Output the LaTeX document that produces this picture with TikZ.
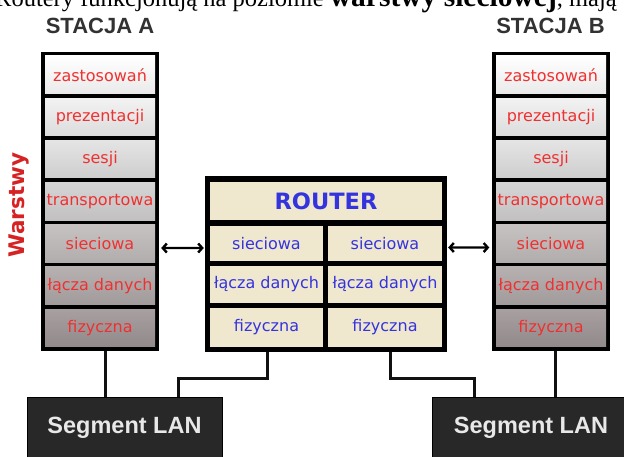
\documentclass[tikz,border=0pt]{standalone}
\usepackage{fontspec}
\setmainfont{Liberation Serif}
\newfontfamily\dvfont{DejaVu Sans}
\newfontfamily\lsfont{Liberation Sans}
\usetikzlibrary{arrows.meta,calc}
\definecolor{laytxt}{RGB}{240,48,48}
\definecolor{warstcol}{RGB}{214,34,34}
\definecolor{routtxt}{RGB}{52,52,222}
\definecolor{beige}{RGB}{239,231,206}
\definecolor{lanfill}{RGB}{40,40,40}
\definecolor{lantxt}{RGB}{232,232,232}
\definecolor{titlecol}{RGB}{50,50,50}
\definecolor{wirecol}{RGB}{17,17,17}
\tikzset{
  frame/.style={fill=black, inner sep=0pt, draw=none},
  laycell/.style={inner sep=0pt, minimum width=110pt, minimum height=37.5pt,
    text=laytxt, font=\dvfont\fontsize{16}{16}\selectfont},
  rcell/.style={fill=beige, inner sep=0pt, text=routtxt,
    font=\dvfont\fontsize{16}{16}\selectfont},
  title/.style={text=titlecol, font=\lsfont\bfseries\fontsize{22}{22}\selectfont, inner sep=0pt},
  lanbox/.style={fill=lanfill, draw=black, line width=0.6pt, inner sep=0pt,
    text=lantxt, font=\lsfont\bfseries\fontsize{23.5}{23.5}\selectfont},
  wire/.style={draw=wirecol, line width=3pt},
  dblarrow/.style={draw=black, line width=2.4pt,
    {Straight Barb[length=4pt,width=9pt]}-{Straight Barb[length=4pt,width=9pt]}},
  c1/.style={top color=white, bottom color={rgb,255:red,234;green,234;blue,234}},
  c2/.style={top color={rgb,255:red,242;green,242;blue,242}, bottom color={rgb,255:red,220;green,220;blue,220}},
  c3/.style={top color={rgb,255:red,228;green,228;blue,228}, bottom color={rgb,255:red,206;green,206;blue,206}},
  c4/.style={top color={rgb,255:red,214;green,213;blue,213}, bottom color={rgb,255:red,194;green,192;blue,192}},
  c5/.style={top color={rgb,255:red,198;green,194;blue,194}, bottom color={rgb,255:red,178;green,173;blue,173}},
  c6/.style={top color={rgb,255:red,182;green,176;blue,176}, bottom color={rgb,255:red,162;green,155;blue,155}},
  c7/.style={top color={rgb,255:red,168;green,160;blue,160}, bottom color={rgb,255:red,146;green,138;blue,138}},
}
\begin{document}
\begin{tikzpicture}[x=1pt,y=-1pt]
\useasboundingbox (0,0) rectangle (624,457);
\clip (0,0) rectangle (624,457);
\fill[white] (0,0) rectangle (624,457);

% cut-off line of text at the top
\node[anchor=base west, inner sep=0pt, font=\fontsize{24.5}{24.5}\selectfont] (topline) at (-5,7)
  {Routery funkcjonują na poziomie {\fontsize{29.5}{29.5}\selectfont\bfseries warstwy sieciowej}, mają};

% titles
\node[title, anchor=base] (tA) at (100,34) {STACJA A};
\node[title, anchor=base] (tB) at (550.5,34) {STACJA B};

% Warstwy
\node[rotate=90, text=warstcol, font=\dvfont\bfseries\fontsize{21.5}{21.5}\selectfont, inner sep=0pt] (warst) at (19,205) {Warstwy};

% station A
\node[frame, minimum width=118pt, minimum height=299pt] (stA) at (100,201.5) {};
\node[laycell,c1] (a1) at (100,74.75) {zastosowań};
\node[laycell,c2] (a2) at (100,116.95) {prezentacji};
\node[laycell,c3] (a3) at (100,159.15) {sesji};
\node[laycell,c4] (a4) at (100,201.35) {transportowa};
\node[laycell,c5] (a5) at (100,243.55) {sieciowa};
\node[laycell,c6] (a6) at (100,285.75) {łącza danych};
\node[laycell,c7] (a7) at (100,327.95) {fizyczna};

% station B
\node[frame, minimum width=118pt, minimum height=299pt] (stB) at (550.5,201.5) {};
\node[laycell,c1] (b1) at (551,74.75) {zastosowań};
\node[laycell,c2] (b2) at (551,116.95) {prezentacji};
\node[laycell,c3] (b3) at (551,159.15) {sesji};
\node[laycell,c4] (b4) at (551,201.35) {transportowa};
\node[laycell,c5] (b5) at (551,243.55) {sieciowa};
\node[laycell,c6] (b6) at (551,285.75) {łącza danych};
\node[laycell,c7] (b7) at (551,327.95) {fizyczna};

% router
\node[frame, minimum width=242pt, minimum height=176pt] (router) at (326,264) {};
\node[rcell, minimum width=232pt, minimum height=38pt,
  font=\dvfont\bfseries\fontsize{22.5}{22.5}\selectfont] (rt) at (326,201) {ROUTER};
\node[rcell, minimum width=113pt, minimum height=35pt] (r1l) at (266.5,243.5) {sieciowa};
\node[rcell, minimum width=114pt, minimum height=35pt] (r1r) at (385,243.5) {sieciowa};
\node[rcell, minimum width=113pt, minimum height=37pt] (r2l) at (266.5,284.5) {łącza danych};
\node[rcell, minimum width=114pt, minimum height=37pt] (r2r) at (385,284.5) {łącza danych};
\node[rcell, minimum width=113pt, minimum height=39pt] (r3l) at (266.5,327.5) {fizyczna};
\node[rcell, minimum width=114pt, minimum height=39pt] (r3r) at (385,327.5) {fizyczna};

% arrows
\draw[dblarrow] ($(stA.east |- a5.east)+(2,4.5)$) -- ($(router.west |- r1l.west)+(-1,4.5)$);
\draw[dblarrow] ($(router.east |- r1r.east)+(1,4)$) -- ($(stB.west |- b5.west)+(-2,4)$);

% LAN segments
\node[lanbox, minimum width=195pt, minimum height=62pt] (lanA) at (124.5,428) {Segment LAN};
\node[lanbox, minimum width=198pt, minimum height=62pt] (lanB) at (531,428) {Segment LAN};

% wires
\coordinate (wA) at ($(stA.south)+(5,0)$);
\coordinate (wB) at ($(stB.south)+(4.5,0)$);
\coordinate (wR1) at ($(router.south)+(-59,0)$);
\coordinate (wR2) at ($(router.south)+(64,0)$);
\coordinate (wL1) at ($(lanA.north west)+(152,0)$);
\coordinate (wL2) at ($(lanB.north west)+(43,0)$);
\draw[wire] (wA) -- (wA |- lanA.north);
\draw[wire] (wB) -- (wB |- lanB.north);
\draw[wire] (wR1) -- ++(0,26) -| (wL1);
\draw[wire] (wR2) -- ++(0,26) -| (wL2);
\end{tikzpicture}
\end{document}
